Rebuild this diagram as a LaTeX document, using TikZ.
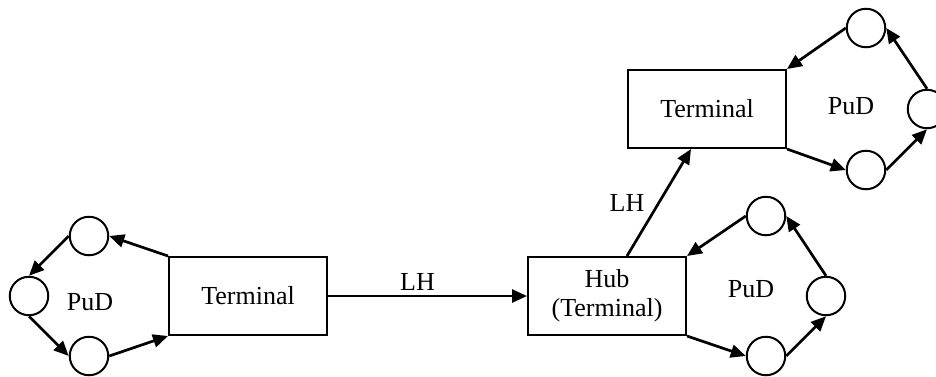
\documentclass[tikz,border=0pt]{standalone}
\usepackage{fontspec}
\setmainfont{Liberation Serif}
\usetikzlibrary{arrows.meta,calc}
\begin{document}
\begin{tikzpicture}[x=1pt,y=-1pt,
  box/.style={draw,line width=2pt,minimum width=158pt,minimum height=78pt,
    inner sep=0pt,align=center,font=\fontsize{26}{29}\selectfont},
  dev/.style={draw,circle,line width=2pt,minimum size=38.5pt,inner sep=0pt},
  lbl/.style={font=\fontsize{26}{29}\selectfont},
  link/.style={line width=2.7pt,-{Triangle[length=15pt,width=13pt]}}]
\useasboundingbox (0,0) rectangle (936,376);

% terminals
\node[box] (t1)  at (248,296) {Terminal};
\node[box] (hub) at (607,296) {Hub\\(Terminal)};
\node[box] (t2)  at (707,109) {Terminal};

% PuD ring at the left terminal
\node[dev] (a1) at (89,236) {};
\node[dev] (a2) at (29,296) {};
\node[dev] (a3) at (89,356) {};
\node[lbl] (ap) at (90,302) {PuD};

% PuD ring at the hub
\node[dev] (b1) at (766,216) {};
\node[dev] (b2) at (826,296) {};
\node[dev] (b3) at (766,356) {};
\node[lbl] (bp) at (751,289) {PuD};

% PuD ring at the upper terminal
\node[dev] (c1) at (866,28) {};
\node[dev] (c2) at (927,109) {};
\node[dev] (c3) at (866,170) {};
\node[lbl] (cp) at (851,106) {PuD};

% pickup/delivery loops
\draw[link] (t1.north west) -- (a1.east);
\draw[link] (a1.west) -- (a2.north);
\draw[link] (a2.south) -- (a3.west);
\draw[link] (a3.east) -- (t1.south west);

\draw[link] (b1.west) -- (hub.north east);
\draw[link] (hub.south east) -- (b3.west);
\draw[link] (b3.east) -- (b2.south);
\draw[link] (b2.north) -- (b1.east);

\draw[link] (c1.west) -- (t2.north east);
\draw[link] (t2.south east) -- (c3.west);
\draw[link] (c3.east) -- (c2.south);
\draw[link] (c2.north) -- (c1.east);

% line-haul links
\draw[link] (t1.east) -- node[lbl,above=1pt,pos=0.45] {LH} (hub.west);
\draw[link] ($(hub.north)+(20,0)$) -- node[lbl,left=10pt] {LH} ($(t2.south)+(-16,0)$);
\end{tikzpicture}
\end{document}
